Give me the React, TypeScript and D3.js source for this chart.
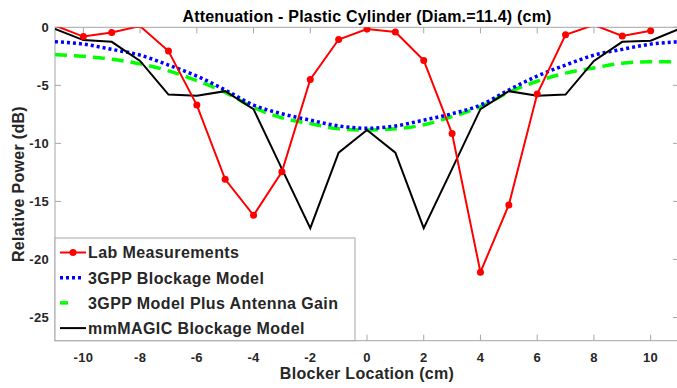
import React, { useEffect, useRef } from "react";
import * as d3 from "d3";

// blocker positions (cm)
const blockerLocations = [-11, -10, -9, -8, -7, -6, -5, -4, -3, -2, -1, 0, 1, 2, 3, 4, 5, 6, 7, 8, 9, 10, 11];

// relative power (dB), one value per blocker location
const labMeasurements = [0.15, -0.8, -0.45, 0.1, -2.05, -6.7, -13.1, -16.2, -12.45, -4.5, -1.05, -0.15, -0.4, -2.85, -9.15, -21.1, -15.3, -5.75, -0.65, 0.2, -0.75, -0.3, null];
const gppBlockage = [-1.24, -1.45, -1.9, -2.4, -3.25, -4.2, -5.4, -6.7, -7.45, -8.0, -8.5, -8.7, -8.5, -8.0, -7.45, -6.7, -5.4, -4.2, -3.25, -2.4, -1.9, -1.45, -1.24];
const gppPlusGain = [-2.35, -2.5, -2.75, -3.15, -3.75, -4.6, -5.6, -6.9, -7.8, -8.3, -8.75, -8.85, -8.75, -8.4, -7.7, -6.85, -5.6, -4.65, -3.95, -3.5, -3.1, -2.97, -2.97];
const mmMagic = [-0.15, -1.1, -1.25, -2.9, -5.8, -5.9, -5.5, -7.05, -12.2, -17.3, -10.8, -8.85, -10.8, -17.3, -12.2, -7.05, -5.5, -5.9, -5.8, -2.9, -1.25, -1.15, -0.15];

const xTicks = [-10, -8, -6, -4, -2, 0, 2, 4, 6, 8, 10];
const yTicks = [0, -5, -10, -15, -20, -25];

const legendLabels = ["Lab Measurements", "3GPP Blockage Model", "3GPP Model Plus Antenna Gain", "mmMAGIC Blockage Model"];

const App = () => {
  const ref = useRef<SVGSVGElement>(null);

  useEffect(() => {
    const svg = d3.select(ref.current);
    svg.selectAll("*").remove();

    const font = "'Liberation Sans', Arial, sans-serif";
    const axisColor = "#a6a6a6";
    const textColor = "#262626";

    const left = 55;
    const right = 679;
    const top = 27.3;
    const bottom = 340.7;

    const x = d3.scaleLinear().domain([-11, 11]).range([left, right]);
    const y = d3.scaleLinear().domain([-27, 0]).range([bottom, top]);

    svg
      .append("defs")
      .append("clipPath")
      .attr("id", "plotClip")
      .append("rect")
      .attr("x", left)
      .attr("y", top)
      .attr("width", right - left)
      .attr("height", bottom - top);

    // ticks (inside)
    const tickLen = 6;
    xTicks.forEach((t) => {
      svg.append("line").attr("x1", x(t)).attr("x2", x(t)).attr("y1", top).attr("y2", top + tickLen).attr("stroke", axisColor);
      svg.append("line").attr("x1", x(t)).attr("x2", x(t)).attr("y1", bottom).attr("y2", bottom - tickLen).attr("stroke", axisColor);
      svg
        .append("text")
        .attr("x", x(t))
        .attr("y", 362)
        .attr("text-anchor", "middle")
        .attr("font-family", font)
        .attr("font-weight", "bold")
        .attr("font-size", 13)
        .attr("letter-spacing", 0.3)
        .attr("fill", textColor)
        .text(t);
    });
    yTicks.forEach((t) => {
      svg.append("line").attr("x1", left).attr("x2", left + tickLen).attr("y1", y(t)).attr("y2", y(t)).attr("stroke", axisColor);
      svg.append("line").attr("x1", right).attr("x2", right - tickLen).attr("y1", y(t)).attr("y2", y(t)).attr("stroke", axisColor);
      svg
        .append("text")
        .attr("x", 49)
        .attr("y", y(t) + 4.5)
        .attr("text-anchor", "end")
        .attr("font-family", font)
        .attr("font-weight", "bold")
        .attr("font-size", 13)
        .attr("letter-spacing", 0.3)
        .attr("fill", textColor)
        .text(t);
    });

    svg
      .append("rect")
      .attr("x", left)
      .attr("y", top)
      .attr("width", right - left)
      .attr("height", bottom - top)
      .attr("fill", "none")
      .attr("stroke", axisColor);

    const plot = svg.append("g").attr("clip-path", "url(#plotClip)");

    const pts = (vals: (number | null)[]) => blockerLocations.map((b, i) => ({ b, v: vals[i] }));
    const line = d3
      .line<{ b: number; v: number | null }>()
      .defined((d) => d.v !== null)
      .x((d) => x(d.b))
      .y((d) => y(d.v as number));

    plot
      .append("path")
      .datum(pts(gppPlusGain))
      .attr("fill", "none")
      .attr("stroke", "#00ff00")
      .attr("stroke-width", 3.5)
      .attr("stroke-dasharray", "12,7")
      .attr("d", line.curve(d3.curveMonotoneX));

    plot
      .append("path")
      .datum(pts(gppBlockage))
      .attr("fill", "none")
      .attr("stroke", "#0000ff")
      .attr("stroke-width", 3.5)
      .attr("stroke-dasharray", "3,3")
      .attr("d", line.curve(d3.curveMonotoneX));

    plot
      .append("path")
      .datum(pts(mmMagic))
      .attr("fill", "none")
      .attr("stroke", "#000000")
      .attr("stroke-width", 2)
      .attr("d", line.curve(d3.curveLinear));

    plot
      .append("path")
      .datum(pts(labMeasurements))
      .attr("fill", "none")
      .attr("stroke", "#ff0000")
      .attr("stroke-width", 2)
      .attr("d", line.curve(d3.curveLinear));

    // markers only for points inside the axis limits
    plot
      .selectAll("circle.lab")
      .data(pts(labMeasurements).filter((d) => d.v !== null && (d.v as number) <= 0))
      .enter()
      .append("circle")
      .attr("cx", (d) => x(d.b))
      .attr("cy", (d) => y(d.v as number))
      .attr("r", 3.5)
      .attr("fill", "#ff0000");

    // legend
    const lg = svg.append("g");
    lg.append("rect")
      .attr("x", left)
      .attr("y", 238)
      .attr("width", 300)
      .attr("height", bottom - 238)
      .attr("fill", "#ffffff")
      .attr("stroke", axisColor);

    legendLabels.forEach((label, i) => {
      const ly = 252.5 + i * 25.2;
      if (i === 0) {
        lg.append("line").attr("x1", 60).attr("x2", 86).attr("y1", ly).attr("y2", ly).attr("stroke", "#ff0000").attr("stroke-width", 2);
        lg.append("circle").attr("cx", 73).attr("cy", ly).attr("r", 3.5).attr("fill", "#ff0000");
      } else if (i === 1) {
        lg.append("line").attr("x1", 60).attr("x2", 84).attr("y1", ly).attr("y2", ly).attr("stroke", "#0000ff").attr("stroke-width", 3.5).attr("stroke-dasharray", "3,3");
      } else if (i === 2) {
        lg.append("line").attr("x1", 60).attr("x2", 68).attr("y1", ly).attr("y2", ly).attr("stroke", "#00ff00").attr("stroke-width", 3.5);
      } else {
        lg.append("line").attr("x1", 60).attr("x2", 86).attr("y1", ly).attr("y2", ly).attr("stroke", "#000000").attr("stroke-width", 2);
      }
      lg.append("text")
        .attr("x", 88)
        .attr("y", ly + 5.8)
        .attr("font-family", font)
        .attr("font-weight", "bold")
        .attr("font-size", 16)
        .attr("letter-spacing", 0.4)
        .attr("fill", textColor)
        .text(label);
    });

    // titles
    svg
      .append("text")
      .attr("x", (left + right) / 2)
      .attr("y", 21.5)
      .attr("text-anchor", "middle")
      .attr("font-family", font)
      .attr("font-weight", "bold")
      .attr("font-size", 16)
      .attr("letter-spacing", 0.2)
      .attr("fill", "#000000")
      .text("Attenuation - Plastic Cylinder (Diam.=11.4) (cm)");

    svg
      .append("text")
      .attr("x", (left + right) / 2)
      .attr("y", 378.5)
      .attr("text-anchor", "middle")
      .attr("font-family", font)
      .attr("font-weight", "bold")
      .attr("font-size", 16)
      .attr("letter-spacing", 0.3)
      .attr("fill", textColor)
      .text("Blocker Location (cm)");

    svg
      .append("text")
      .attr("transform", `translate(24, ${(top + bottom) / 2}) rotate(-90)`)
      .attr("text-anchor", "middle")
      .attr("font-family", font)
      .attr("font-weight", "bold")
      .attr("font-size", 16)
      .attr("letter-spacing", 0.3)
      .attr("fill", textColor)
      .text("Relative Power (dB)");
  });

  return (
    <svg
      ref={ref}
      width={677}
      height={388}
      style={{ position: "absolute", left: 0, top: 0, background: "#ffffff" }}
    />
  );
};

export default App;
